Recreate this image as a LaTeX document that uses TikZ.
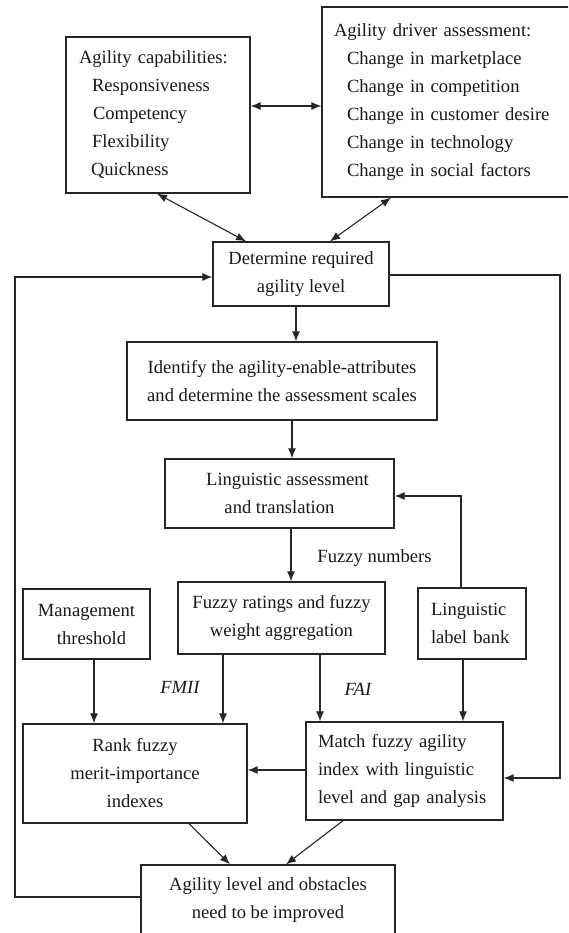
\documentclass[tikz,border=0pt]{standalone}
\usepackage{fontspec}
\setmainfont{Liberation Serif}
\usetikzlibrary{arrows.meta}
\begin{document}
\begin{tikzpicture}[x=1pt,y=-1pt,
  font=\fontsize{18.6}{28}\selectfont,
  every node/.style={text=black!90},
  box/.style={draw=black!85,line width=1.3pt,inner sep=0pt,align=center},
  lbox/.style={draw=black!85,line width=1.3pt,inner ysep=0pt,align=left},
  conn/.style={draw=black!85,line width=1.1pt},
  lab/.style={inner sep=0pt},
  >={Latex[length=10pt,width=8pt]}]
\useasboundingbox (0,0) rectangle (568,933);
\fill[white] (0,0) rectangle (568,933);
\clip (0,0) rectangle (568,933);

% boxes
\node[lbox,minimum width=184pt,minimum height=156pt,inner xsep=13pt,text width=158pt] (cap) at (158,115)
  {Agility capabilities:\\\hspace*{13pt}Responsiveness\\\hspace*{14pt}Competency\\\hspace*{13pt}Flexibility\\\hspace*{12pt}Quickness};
\node[lbox,minimum width=253pt,minimum height=190pt,inner xsep=12pt,text width=229pt] (drv) at (448.5,102)
  {Agility driver assessment:\\\hspace*{13pt}Change in marketplace\\\hspace*{13pt}Change in competition\\\hspace*{13pt}Change in customer desire\\\hspace*{13pt}Change in technology\\\hspace*{13pt}Change in social factors};
\node[box,minimum width=176pt,minimum height=64pt] (det) at (301,274) {Determine required\\agility level};
\node[box,minimum width=310pt,minimum height=78pt] (idf) at (282,381) {Identify the agility-enable-attributes\\and determine the assessment scales};
\node[box,minimum width=229pt,minimum height=69pt] (lin) at (279.5,493.5) {\hspace*{16pt}Linguistic assessment\\and translation};
\node[box,minimum width=207pt,minimum height=72pt] (fuz) at (281.5,618) {Fuzzy ratings and fuzzy\\weight aggregation};
\node[box,minimum width=127pt,minimum height=70pt] (mgt) at (86.5,624) {Management\\\hspace*{10pt}threshold};
\node[lbox,minimum width=108pt,minimum height=71pt,inner xsep=13pt,text width=82pt] (bank) at (472,623.5) {Linguistic\\label bank};
\node[box,minimum width=224pt,minimum height=99pt] (rank) at (135,773.5) {Rank fuzzy\\merit-importance\\indexes};
\node[lbox,minimum width=197pt,minimum height=98pt,inner xsep=12pt,text width=173pt] (match) at (404.5,771) {Match fuzzy agility\\index with linguistic\\level and gap analysis};
\node[box,minimum width=254pt,minimum height=71pt] (agl) at (268,900.5) {Agility level and obstacles\\need to be improved};

% labels
\node[lab] (fn) at (374.5,558) {Fuzzy numbers};
\node[lab,font=\fontsize{18.6}{28}\selectfont\itshape] (fmii) at (180,687) {FMII};
\node[lab,font=\fontsize{18.6}{28}\selectfont\itshape] (fai) at (358,689) {FAI};

% connectors
\draw[conn,<->] (cap.east |- 0,106) -- (drv.west |- 0,106);
\draw[conn,<->] (cap.south -| 157,0) -- (det.north -| 246,0);
\draw[conn,<->] (det.north -| 330,0) -- (drv.south -| 391,0);
\draw[conn,->] (det.south -| 296,0) -- (idf.north -| 296,0);
\draw[conn,->] (idf.south -| 292,0) -- (lin.north -| 292,0);
\draw[conn,->] (lin.south -| 291,0) -- (fuz.north -| 291,0);
\draw[conn,->] (bank.north -| 461,0) -- (461,496) -- (lin.east |- 0,496);
\draw[conn,->] (bank.south -| 463,0) -- (match.north -| 463,0);
\draw[conn,->] (fuz.south -| 223,0) -- (rank.north -| 223,0);
\draw[conn,->] (fuz.south -| 320,0) -- (match.north -| 320,0);
\draw[conn,->] (mgt.south -| 94,0) -- (rank.north -| 94,0);
\draw[conn,->] (match.west |- 0,770) -- (rank.east |- 0,770);
\draw[conn,->] (rank.south -| 189,0) -- (agl.north -| 230,0);
\draw[conn,->] (match.south -| 343,0) -- (agl.north -| 286,0);
\draw[conn,->] (agl.west |- 0,897) -- (15,897) -- (15,277) -- (det.west |- 0,277);
\draw[conn,->] (det.east |- 0,275) -- (560,275) -- (560,778) -- (match.east |- 0,778);
\end{tikzpicture}
\end{document}
